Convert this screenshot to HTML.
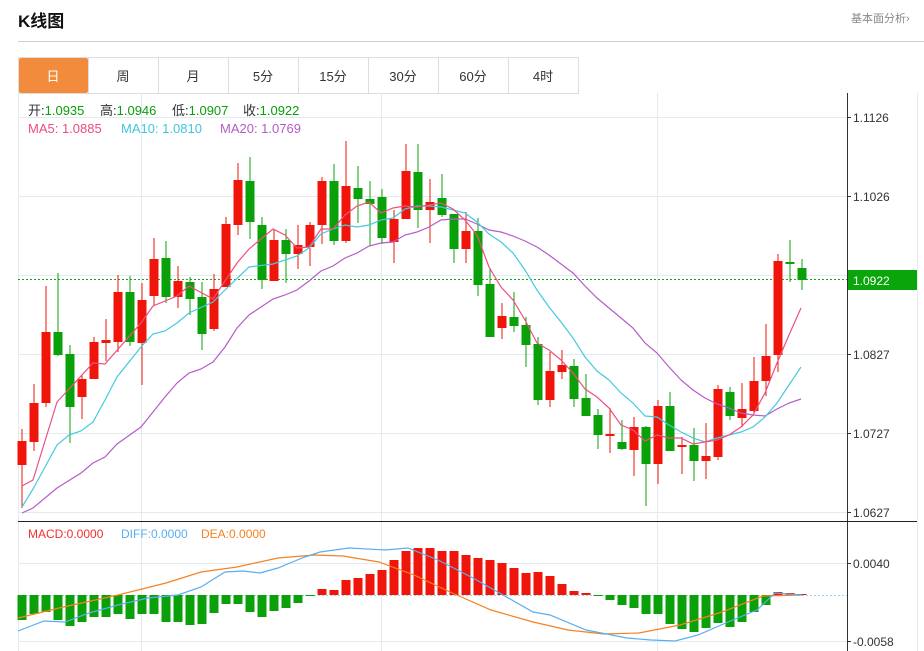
<!DOCTYPE html>
<html><head><meta charset="utf-8"><style>
body{margin:0;background:#fff;width:924px;height:651px;overflow:hidden;font-family:"Liberation Sans","Noto Sans CJK SC",sans-serif;}
</style></head><body>
<svg id="s" width="924" height="651" xmlns="http://www.w3.org/2000/svg" style="position:absolute;left:0;top:0;font-family:'Liberation Sans','Noto Sans CJK SC',sans-serif">
<text x="18" y="27" font-size="17" font-weight="bold" fill="#111">K线图</text>
<text x="851" y="22" font-size="11" fill="#888">基本面分析›</text>
<line x1="18" y1="41.5" x2="924" y2="41.5" stroke="#d0d0d0"/>
<rect x="18.5" y="57.5" width="560" height="36" fill="#fff" stroke="#ddd"/>
<rect x="19" y="58" width="69" height="35" fill="#f28b3c" rx="2"/>
<g stroke="#ddd"><line x1="88.5" y1="57" x2="88.5" y2="93"/><line x1="158.5" y1="57" x2="158.5" y2="93"/><line x1="228.5" y1="57" x2="228.5" y2="93"/><line x1="298.5" y1="57" x2="298.5" y2="93"/><line x1="368.5" y1="57" x2="368.5" y2="93"/><line x1="438.5" y1="57" x2="438.5" y2="93"/><line x1="508.5" y1="57" x2="508.5" y2="93"/></g>
<g font-size="13" text-anchor="middle" fill="#333"><text x="53" y="81" fill="#fff">日</text><text x="123" y="81">周</text><text x="193" y="81">月</text><text x="263" y="81">5分</text><text x="333" y="81">15分</text><text x="403" y="81">30分</text><text x="473" y="81">60分</text><text x="543" y="81">4时</text></g>
<g stroke="#e3eaf0"><line x1="18" y1="117.5" x2="847" y2="117.5"/><line x1="18" y1="196.5" x2="847" y2="196.5"/><line x1="18" y1="275.5" x2="847" y2="275.5"/><line x1="18" y1="354.5" x2="847" y2="354.5"/><line x1="18" y1="433.5" x2="847" y2="433.5"/><line x1="18" y1="512.5" x2="847" y2="512.5"/><line x1="18" y1="563.5" x2="847" y2="563.5"/><line x1="18" y1="641.5" x2="847" y2="641.5"/><line x1="141.5" y1="93" x2="141.5" y2="651"/><line x1="381.5" y1="93" x2="381.5" y2="651"/><line x1="657.5" y1="93" x2="657.5" y2="651"/><line x1="18.5" y1="93" x2="18.5" y2="651"/><line x1="917.5" y1="93" x2="917.5" y2="651"/></g>
<line x1="847.5" y1="93" x2="847.5" y2="651" stroke="#333"/>
<line x1="18" y1="521.5" x2="917" y2="521.5" stroke="#222"/>
<g font-size="12" fill="#333"><text x="853" y="122">1.1126</text><text x="853" y="201">1.1026</text><text x="853" y="359">1.0827</text><text x="853" y="438">1.0727</text><text x="853" y="517">1.0627</text><text x="853" y="568">0.0040</text><text x="853" y="646">-0.0058</text></g>
<g stroke="#333"><line x1="847" y1="117.5" x2="851" y2="117.5"/><line x1="847" y1="196.5" x2="851" y2="196.5"/><line x1="847" y1="354.5" x2="851" y2="354.5"/><line x1="847" y1="433.5" x2="851" y2="433.5"/><line x1="847" y1="512.5" x2="851" y2="512.5"/><line x1="847" y1="563.5" x2="851" y2="563.5"/><line x1="847" y1="641.5" x2="851" y2="641.5"/></g>
<line x1="18" y1="279.5" x2="847" y2="279.5" stroke="#19a519" stroke-dasharray="2,2"/>
<rect x="848" y="270" width="69" height="20" fill="#0aa50a"/>
<text x="853" y="285" font-size="12" fill="#fff">1.0922</text>
<line x1="18" y1="595.5" x2="847" y2="595.5" stroke="#9fd6ea" stroke-dasharray="2,2"/>
<g font-size="13">
<text x="28" y="115" fill="#333">开:<tspan fill="#0a9e0a">1.0935</tspan></text>
<text x="100" y="115" fill="#333">高:<tspan fill="#0a9e0a">1.0946</tspan></text>
<text x="172" y="115" fill="#333">低:<tspan fill="#0a9e0a">1.0907</tspan></text>
<text x="243" y="115" fill="#333">收:<tspan fill="#0a9e0a">1.0922</tspan></text>
<text x="28" y="133" fill="#ec4c7f">MA5: 1.0885</text>
<text x="121" y="133" fill="#3ec6df">MA10: 1.0810</text>
<text x="220" y="133" fill="#b35cc7">MA20: 1.0769</text></g>
<g font-size="12"><text x="28" y="538" fill="#f03030">MACD:0.0000</text><text x="121" y="538" fill="#5aaef0">DIFF:0.0000</text><text x="201" y="538" fill="#f58220">DEA:0.0000</text></g>
<g id="c"></g>
</svg>
<script>
var R='#f0150a',G='#0aa00a',ns='http://www.w3.org/2000/svg',g=document.getElementById('c');
function el(t,a){var e=document.createElementNS(ns,t);for(var k in a)e.setAttribute(k,a[k]);g.appendChild(e);}
var C=[['r',441,465,429,508],['r',403,442,384,451],['r',332,403,286,407],['g',332,355,273,356],['g',354,407,345,443],['r',379,397,375,419],['r',342,379,337,379],['r',340,343,319,361],['r',292,342,275,352],['g',292,342,276,346],['r',300,343,283,385],['r',259,296,238,305],['g',258,297,241,303],['r',281,297,266,308],['g',282,299,277,315],['g',297,334,282,350],['r',289,329,274,331],['r',224,287,217,287],['r',180,225,163,235],['g',181,222,157,239],['g',225,280,217,289],['r',240,281,230,281],['g',240,254,229,283],['r',245,254,225,269],['r',225,247,222,266],['r',181,225,177,244],['g',181,241,164,245],['r',186,241,141,243],['g',188,199,166,223],['g',199,204,181,246],['g',197,238,189,244],['r',219,242,210,263],['r',171,219,144,219],['g',172,210,144,228],['r',202,210,179,243],['g',198,215,174,217],['g',214,249,214,263],['r',231,249,212,263],['g',231,285,218,296],['g',284,337,268,337],['r',316,328,303,339],['g',317,326,292,332],['g',325,345,317,367],['g',344,400,337,405],['r',371,400,352,407],['r',365,372,350,379],['g',366,399,359,407],['g',398,416,374,416],['g',415,435,409,449],['r',434,436,408,453],['g',442,449,420,450],['r',427,450,417,476],['g',427,464,426,506],['r',406,464,400,484],['g',406,451,392,451],['r',445,447,437,474],['g',445,461,428,481],['r',456,461,423,479],['r',389,457,385,460],['g',392,416,387,420],['r',409,418,383,427],['r',381,411,357,413],['r',356,381,324,396],['r',261,355,254,372],['g',262,264,240,282],['g',268,280,259,290]];
function X(i){return 22+12*i;}
function line(pts,col,w){el('polyline',{points:pts.map(function(p){return p[0]+','+p[1]}).join(' '),fill:'none',stroke:col,'stroke-width':w||1.2});}
var ma20=[[22,513],[33,508],[57,488],[81,473],[93,463],[105,457],[117,444],[141,427],[153,412],[165,397],[177,383],[189,373],[201,369],[213,362],[225,347],[237,328],[249,315],[261,307],[273,299],[285,295],[297,290],[309,281],[321,271],[333,266],[345,258],[357,253],[369,246],[381,243],[393,242],[405,235],[417,232],[429,227],[441,220],[453,219],[465,219],[477,224],[489,230],[501,232],[513,236],[525,241],[537,247],[549,255],[561,264],[573,273],[585,286],[597,298],[609,308],[621,318],[633,328],[645,343],[657,353],[669,367],[681,380],[693,390],[705,398],[717,404],[729,408],[741,413],[753,415],[765,416],[777,409],[789,403],[801,399]];
var ma10=[[22,507],[33,489],[57,445],[69,435],[81,431],[93,422],[105,400],[117,377],[141,347],[153,334],[165,331],[177,323],[189,313],[213,302],[225,290],[249,267],[273,264],[297,256],[309,248],[321,234],[333,229],[345,225],[357,227],[369,225],[381,220],[393,218],[405,209],[417,206],[429,206],[441,207],[453,210],[465,213],[477,222],[489,234],[501,242],[513,253],[525,270],[537,290],[549,307],[561,322],[573,338],[585,357],[597,371],[609,380],[621,393],[633,403],[645,416],[657,417],[669,425],[681,432],[693,438],[705,442],[717,438],[729,435],[741,432],[753,427],[765,417],[777,403],[789,385],[801,367]];
var ma5=[[22,486],[33,480],[57,402],[93,363],[105,364],[141,323],[153,306],[177,296],[189,286],[213,299],[237,263],[249,249],[273,229],[285,235],[297,248],[309,247],[321,229],[333,229],[345,215],[357,206],[369,202],[381,213],[393,208],[405,206],[417,207],[429,205],[441,203],[453,209],[465,220],[477,235],[489,267],[501,287],[513,300],[525,320],[537,343],[549,350],[561,360],[573,373],[585,389],[597,397],[609,408],[621,425],[633,430],[645,441],[657,435],[669,438],[681,438],[693,444],[705,442],[717,440],[729,435],[741,427],[753,415],[765,393],[777,363],[789,335],[801,308]];
C.forEach(function(c,i){var x=X(i),col=c[0]=='r'?R:G;el('line',{x1:x,y1:c[3],x2:x,y2:c[4],stroke:col,'stroke-width':1});el('rect',{x:x-4.5,y:c[1],width:9,height:Math.max(2,c[2]-c[1]),fill:col});});
line(ma20,'#b55cc8');line(ma10,'#45c9e0');line(ma5,'#ee4f7e');
var H=[-25,-19,-17,-25,-31,-27,-22,-22,-19,-24,-19,-19,-27,-27,-30,-29,-18,-9,-9,-17,-22,-16,-13,-8,-1,6,5,15,17,21,25,35,44,47,47,44,44,40,37,35,32,27,22,23,19,11,4,2,-1,-5,-10,-13,-19,-19,-29,-34,-37,-33,-28,-32,-27,-17,-10,3,2,1];
H.forEach(function(h,i){var x=X(i);el('rect',{x:x-4.5,y:h>0?595-h:595,width:9,height:Math.max(1,Math.abs(h)),fill:h>0?R:G});});
line([[18,618],[59,608],[118,595],[166,583],[201,572],[237,567],[278,558],[314,555],[343,556],[379,562],[414,575],[450,592],[491,610],[533,622],[568,630],[604,634],[639,633],[680,625],[722,612],[763,596],[802,595]],'#f58220');
line([[18,631],[44,621],[65,622],[89,613],[118,605],[148,598],[178,595],[201,587],[225,572],[243,571],[260,573],[278,568],[302,558],[320,552],[349,548],[385,550],[408,548],[438,560],[473,578],[503,595],[533,612],[550,615],[586,630],[627,638],[651,640],[675,641],[698,635],[728,622],[757,610],[775,593],[802,595]],'#5aaef0');
</script>
</body></html>
